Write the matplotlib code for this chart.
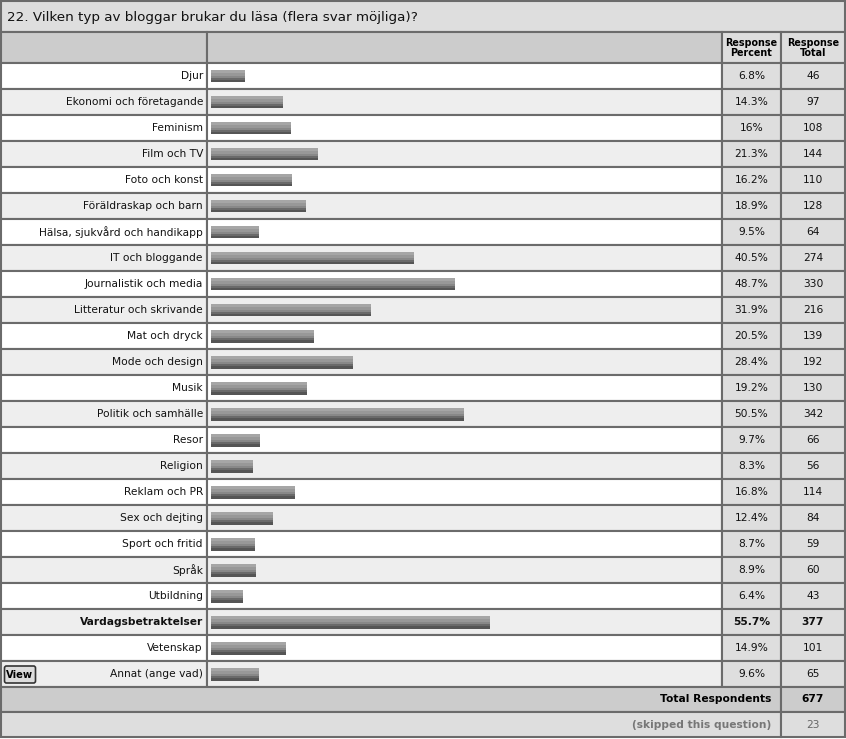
import matplotlib
matplotlib.use("Agg")
import matplotlib.pyplot as plt
import matplotlib.patches as patches

title = "22. Vilken typ av bloggar brukar du läsa (flera svar möjliga)?"
categories = ["Djur", "Ekonomi och företagande", "Feminism", "Film och TV",
              "Foto och konst", "Föräldraskap och barn", "Hälsa, sjukvård och handikapp",
              "IT och bloggande", "Journalistik och media", "Litteratur och skrivande",
              "Mat och dryck", "Mode och design", "Musik", "Politik och samhälle",
              "Resor", "Religion", "Reklam och PR", "Sex och dejting",
              "Sport och fritid", "Språk", "Utbildning", "Vardagsbetraktelser",
              "Vetenskap", "Annat (ange vad)"]
percent = [6.8, 14.3, 16, 21.3, 16.2, 18.9, 9.5, 40.5, 48.7, 31.9, 20.5, 28.4,
           19.2, 50.5, 9.7, 8.3, 16.8, 12.4, 8.7, 8.9, 6.4, 55.7, 14.9, 9.6]
totals = [46, 97, 108, 144, 110, 128, 64, 274, 330, 216, 139, 192, 130, 342,
          66, 56, 114, 84, 59, 60, 43, 377, 101, 65]
total_respondents = 677
skipped = 23
highlight = "Vardagsbetraktelser"

W, H = 846, 739
fig = plt.figure(figsize=(W / 100, H / 100), dpi=100)
ax = fig.add_axes([0, 0, 1, 1])
ax.set_xlim(0, W)
ax.set_ylim(H, 0)
ax.axis("off")

line = "#6b6b6b"
x_lab, x_bar, x_pct, x_tot, x_end = 1, 207, 722, 781, 845
top_rows, row_h = 63, 26
fs = 7.7

def cell(x0, y0, x1, y1, fc):
    ax.add_patch(patches.Rectangle((x0, y0), x1 - x0, y1 - y0, fc=fc,
                                   ec=line, lw=1.5))

# title
cell(x_lab, 1, x_end, 32, "#dedede")
ax.text(7, 17, title, fontsize=9.7, va="center", ha="left", color="#111")

# header
cell(x_lab, 32, x_bar, top_rows, "#cccccc")
cell(x_bar, 32, x_pct, top_rows, "#cccccc")
cell(x_pct, 32, x_tot, top_rows, "#dedede")
cell(x_tot, 32, x_end, top_rows, "#dedede")
for xc, txt in [((x_pct + x_tot) / 2, "Response\nPercent"),
                ((x_tot + x_end) / 2, "Response\nTotal")]:
    ax.text(xc, 48, txt, fontsize=6.9, fontweight="bold", ha="center",
            va="center", linespacing=0.95)

# data rows
for i, (cat, p, t) in enumerate(zip(categories, percent, totals)):
    y0 = top_rows + i * row_h
    y1 = y0 + row_h
    bg = "white" if i % 2 == 0 else "#eeeeee"
    cell(x_lab, y0, x_bar, y1, bg)
    cell(x_bar, y0, x_pct, y1, bg)
    cell(x_pct, y0, x_tot, y1, "#dedede")
    cell(x_tot, y0, x_end, y1, "#dedede")
    fw = "bold" if cat == highlight else "normal"
    yc = y0 + row_h / 2
    ax.text(203, yc, cat, fontsize=fs, ha="right", va="center", fontweight=fw,
            color="#111")
    ps = ("%g" % p) + "%"
    ax.text((x_pct + x_tot) / 2, yc, ps, fontsize=fs, ha="center", va="center",
            fontweight=fw, color="#111")
    ax.text((x_tot + x_end) / 2, yc, str(t), fontsize=fs, ha="center",
            va="center", fontweight=fw, color="#111")

# "View" button on last row
yv = top_rows + (len(categories) - 1) * row_h
ax.add_patch(patches.FancyBboxPatch((4.5, yv + 5), 31, 17,
                                    boxstyle="round,pad=0,rounding_size=2",
                                    fc="#dcdcdc", ec="#333", lw=1.2))
ax.text(20, yv + 13.5, "View", fontsize=7.2, fontweight="bold", ha="center",
        va="center")

# footer rows
yf = top_rows + len(categories) * row_h
cell(x_lab, yf, x_tot, yf + 25, "#cccccc")
cell(x_tot, yf, x_end, yf + 25, "#cccccc")
ax.text(771, yf + 12.5, "Total Respondents", fontsize=fs, fontweight="bold",
        ha="right", va="center")
ax.text((x_tot + x_end) / 2, yf + 12.5, str(total_respondents), fontsize=fs,
        fontweight="bold", ha="center", va="center")
cell(x_lab, yf + 25, x_tot, yf + 50, "#dedede")
cell(x_tot, yf + 25, x_end, yf + 50, "#dedede")
ax.text(771, yf + 37.5, "(skipped this question)", fontsize=fs,
        fontweight="bold", ha="right", va="center", color="#777")
ax.text((x_tot + x_end) / 2, yf + 37.5, str(skipped), fontsize=fs,
        ha="center", va="center", color="#666")

# bar axes: 500 px wide = 100 %
n = len(categories)
bax = fig.add_axes([211 / W, 1 - yf / H, 500 / W, (yf - top_rows) / H])
bax.set_xlim(0, 100)
bax.set_ylim(n, 0)
bax.axis("off")
bax.patch.set_alpha(0)
ypos = [i + 0.5 for i in range(n)]
# layered bands for the grey gradient, top light to bottom dark
bands = [(-0.25, 0.12, "#a6a6a6"), (-0.13, 0.12, "#989898"),
         (-0.01, 0.08, "#888888"), (0.07, 0.1, "#6a6a6a"),
         (0.17, 0.08, "#555555")]
for off, h, c in bands:
    bax.barh([y + off + h / 2 for y in ypos], percent, height=h, left=0,
             color=c, linewidth=0)

fig.savefig("out.png", dpi=100)
